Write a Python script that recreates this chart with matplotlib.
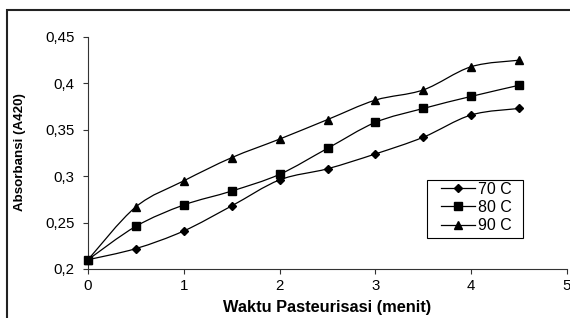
import matplotlib
matplotlib.use("Agg")
import matplotlib.pyplot as plt
from matplotlib.path import Path
from matplotlib.patches import PathPatch, Rectangle
from matplotlib.lines import Line2D
import numpy as np

plt.rcParams['font.family'] = ['Liberation Sans', 'DejaVu Sans']

time_min = [0, 0.5, 1, 1.5, 2, 2.5, 3, 3.5, 4, 4.5]
abs_70 = [0.210, 0.222, 0.241, 0.268, 0.296, 0.308, 0.324, 0.342, 0.366, 0.373]
abs_80 = [0.210, 0.246, 0.269, 0.284, 0.302, 0.330, 0.358, 0.373, 0.386, 0.398]
abs_90 = [0.210, 0.267, 0.295, 0.320, 0.340, 0.361, 0.382, 0.393, 0.418, 0.425]
series_labels = ['70 C', '80 C', '90 C']
markers = ['D', 's', '^']
msizes = [4.4, 5.2, 5.8]
x_ticks = [0, 1, 2, 3, 4, 5]
y_ticks = [0.2, 0.25, 0.3, 0.35, 0.4, 0.45]
y_ticklabels = ['0,2', '0,25', '0,3', '0,35', '0,4', '0,45']

W, H = 570, 318
fig = plt.figure(figsize=(5.7, 3.18), dpi=100)
ax = fig.add_axes([88/W, 49/H, 479/W, 232/H])

def smooth_path(x, y):
    pts = np.column_stack([x, y]).astype(float)
    n = len(pts)
    verts = [pts[0]]
    codes = [Path.MOVETO]
    for i in range(n - 1):
        p0 = pts[i - 1] if i > 0 else pts[i]
        p1 = pts[i]
        p2 = pts[i + 1]
        p3 = pts[i + 2] if i + 2 < n else pts[i + 1]
        c1 = p1 + (p2 - p0) / 6.0
        c2 = p2 - (p3 - p1) / 6.0
        verts += [c1, c2, p2]
        codes += [Path.CURVE4] * 3
    return Path(verts, codes)

handles = []
for ys, lab, mk, ms in zip([abs_70, abs_80, abs_90], series_labels, markers, msizes):
    patch = PathPatch(smooth_path(time_min, ys), fill=False, edgecolor='black', lw=0.9)
    ax.add_patch(patch)
    ax.plot(time_min, ys, linestyle='none', marker=mk, markersize=ms,
            color='black', zorder=3, clip_on=False)
    handles.append(Line2D([], [], color='black', lw=0.9, marker=mk, markersize=ms))

ax.set_xlim(0, 5)
ax.set_ylim(0.2, 0.45)
ax.set_xticks(x_ticks)
ax.set_xticklabels([str(t) for t in x_ticks])
ax.set_yticks(y_ticks)
ax.set_yticklabels(y_ticklabels)
for s in ['top', 'right']:
    ax.spines[s].set_visible(False)
for s in ['left', 'bottom']:
    ax.spines[s].set_linewidth(0.8)
    ax.spines[s].set_color('#333333')
ax.tick_params(direction='out', length=3.8, width=0.8, color='#333333',
               labelsize=10.8)
ax.tick_params(axis='y', pad=6)
ax.tick_params(axis='x', pad=3.5)

ax.set_xlabel('Waktu Pasteurisasi (menit)', fontsize=11.8, fontweight='bold')
ax.xaxis.set_label_coords(0.5, -0.133)
ax.set_ylabel('Absorbansi (A420)', fontsize=9.6, fontweight='bold')
ax.yaxis.set_label_coords((26 - 88) / 479, 0.505)

leg = fig.legend(handles, series_labels, loc='upper left',
                 bbox_to_anchor=(441 / W, 1 - 181.5 / H),
                 frameon=False, fontsize=11.5, handlelength=2.1,
                 handletextpad=0.2, borderpad=0.0, labelspacing=0.21,
                 borderaxespad=0)

fig.patches.append(Rectangle((427 / W, 1 - 238 / H), 96 / W, 58 / H,
                             transform=fig.transFigure, fill=True,
                             facecolor='white', edgecolor='black', lw=0.8,
                             zorder=0))

fig.patches.append(Rectangle((7/W, -0.1), 1.2, 1 - 10/H + 0.1,
                             transform=fig.transFigure, fill=False,
                             edgecolor='#222222', lw=1.5))

fig.savefig('out.png', dpi=100)
